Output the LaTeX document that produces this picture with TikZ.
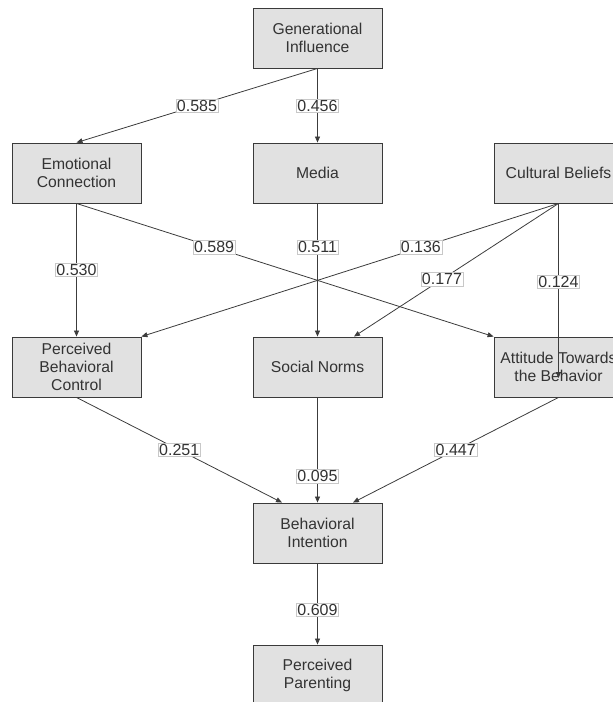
\documentclass[tikz,border=0pt]{standalone}
\usepackage{fontspec}
\setmainfont{Liberation Sans}
\usetikzlibrary{arrows.meta,calc}
\definecolor{boxfill}{HTML}{E1E1E1}
\definecolor{boxborder}{HTML}{3A3A3A}
\definecolor{textcol}{HTML}{333333}
\definecolor{edgecol}{HTML}{3C3C3C}
\definecolor{labborder}{HTML}{C8C8C8}
\begin{document}
\begin{tikzpicture}[x=1pt,y=-1pt,
  box/.style={draw=boxborder, fill=boxfill, line width=0.9pt, minimum width=129pt,
    minimum height=60pt, inner sep=0pt, align=center, text=textcol,
    font=\fontsize{15.7}{18}\selectfont},
  edge/.style={draw=edgecol, line width=0.8pt, -{Triangle[length=6pt,width=5pt]}},
  lab/.style={fill=white, draw=labborder, line width=0.5pt, inner sep=1pt,
    text=textcol, font=\fontsize{16}{18}\selectfont}
]
\useasboundingbox (0,0) rectangle (613,702);
\clip (0,0) rectangle (613,702);
\node[box] (GI)  at (317.5,38)  {Generational\\Influence};
\node[box] (EC)  at (76.5,173)  {Emotional\\Connection};
\node[box] (MD)  at (317.5,173) {Media};
\node[box] (CB)  at (558.5,173) {Cultural Beliefs};
\node[box] (PBC) at (76.5,367)  {Perceived\\Behavioral\\Control};
\node[box] (SN)  at (317.5,367) {Social Norms};
\node[box] (ATB) at (558.5,367) {Attitude Towards\\the Behavior};
\node[box] (BI)  at (317.5,533) {Behavioral\\Intention};
\node[box] (PP)  at (317.5,675) {Perceived\\Parenting};
\coordinate (cbend) at (558.5,378);

\draw[edge] (GI.south) -- node[lab] {0.585} (EC.north);
\draw[edge] (GI.south) -- node[lab] {0.456} (MD.north);
\draw[edge] (EC.south) -- node[lab] {0.530} (PBC.north);
\draw[edge] (EC.south) -- node[lab, pos=0.33] {0.589} (ATB.north west);
\draw[edge] (MD.south) -- node[lab, pos=0.33] {0.511} (SN.north);
\draw[edge] (CB.south) -- node[lab, pos=0.33] {0.136} (PBC.north east);
\draw[edge] (CB.south) -- node[lab, pos=0.57] {0.177} ([xshift=36.5pt]SN.north);
\draw[edge] (CB.south) -- node[lab, pos=0.45] {0.124} (cbend);
\draw[edge] (PBC.south) -- node[lab] {0.251} ([xshift=-35.5pt]BI.north);
\draw[edge] (SN.south) -- node[lab, pos=0.75] {0.095} (BI.north);
\draw[edge] (ATB.south) -- node[lab] {0.447} ([xshift=35.5pt]BI.north);
\draw[edge] (BI.south) -- node[lab, pos=0.57] {0.609} (PP.north);
\end{tikzpicture}
\end{document}
